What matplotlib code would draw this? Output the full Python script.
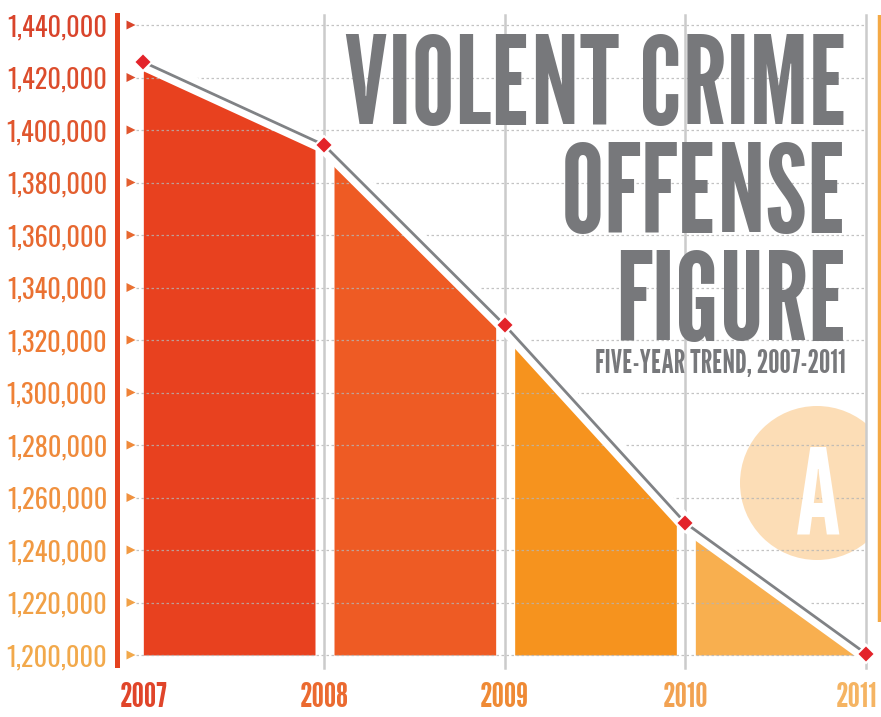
import matplotlib
matplotlib.use("Agg")
import matplotlib.pyplot as plt
import matplotlib.patheffects as pe
from matplotlib.patches import Circle, Rectangle
from matplotlib.colors import LinearSegmentedColormap
from matplotlib.font_manager import FontProperties
import matplotlib.transforms as mtrans
import numpy as np

# ---------------- data ----------------
years = [2007, 2008, 2009, 2010, 2011]
offenses = [1425900, 1394300, 1325700, 1250300, 1200500]
tick_values = [1200000, 1220000, 1240000, 1260000, 1280000, 1300000, 1320000,
               1340000, 1360000, 1380000, 1400000, 1420000, 1440000]
tick_labels = ["1,200,000", "1,220,000", "1,240,000", "1,260,000", "1,280,000",
               "1,300,000", "1,320,000", "1,340,000", "1,360,000", "1,380,000",
               "1,400,000", "1,420,000", "1,440,000"]
year_labels = ["2007", "2008", "2009", "2010", "2011"]
title_lines = ["VIOLENT CRIME", "OFFENSE", "FIGURE"]
subtitle = "FIVE-YEAR TREND, 2007-2011"
badge = "A"

# ---------------- styles ----------------
seg_colors = ["#E8411F", "#EE5B24", "#F6931E", "#F8AF4F"]
year_colors = ["#E0452A", "#EB6A30", "#EF8A35", "#F2A252", "#F5B463"]
grad = LinearSegmentedColormap.from_list("g", ["#F2A94B", "#EE7A33", "#D9442B"])
FONT = ["League Gothic", "DejaVu Sans"]
TICKFONT = ["Oswald", "League Gothic", "DejaVu Sans"]
GRAY_TXT = "#77787B"

W, H = 881, 717
fig = plt.figure(figsize=(W / 100, H / 100), dpi=100)

ax_l, ax_t, ax_b, ax_r = 117, 15, 665, 881
ax = fig.add_axes([ax_l / W, (H - ax_b) / H, (ax_r - ax_l) / W, (ax_b - ax_t) / H])

# pixel->data helpers (layout only)
px_per_year = (866 - 324) / 3.0
def px2x(px):
    return 2008 + (px - 324) / px_per_year
px_per_val = 52.5 / 20000
def py2y(py):
    return 1200000 + (655 - py) / px_per_val

ax.set_xlim(px2x(ax_l), px2x(ax_r))
ax.set_ylim(py2y(ax_b), py2y(ax_t))

for s in ["top", "right", "bottom"]:
    ax.spines[s].set_visible(False)
ax.spines["left"].set_color("#E4421F")
ax.spines["left"].set_linewidth(3.6)
ax.spines["left"].set_zorder(6)

# right orange bar
ax.plot([0.9985, 0.9985], [1.0, (ax_b - 622) / (ax_b - ax_t)], transform=ax.transAxes,
        color="#F4A945", lw=3.2, clip_on=False, solid_capstyle="butt", zorder=6)

# badge circle, clipped at the 2011 line
circ = Circle((817, H - 483), 77, facecolor="#FCDDB6", edgecolor="none", zorder=0.5)
circ.set_transform(mtrans.IdentityTransform())
ax.add_patch(circ)
clip_rect = Rectangle((px2x(ax_l), py2y(ax_b)), 2011 - px2x(ax_l), py2y(ax_t) - py2y(ax_b),
                      transform=ax.transData, facecolor="none", edgecolor="none")
ax.add_patch(clip_rect)
circ.set_clip_path(clip_rect)
ax.text(px2x(818), py2y(533), badge, color="white", fontsize=86, family=FONT,
        ha="center", va="baseline", zorder=7)

# area segments
x_arr = np.array(years, dtype=float)
v_arr = np.array(offenses, dtype=float)
gap_r = 9 / px_per_year
gap_l = 10 / px_per_year
for i in range(len(years) - 1):
    x0 = years[i] + (0 if i == 0 else gap_l)
    x1 = years[i + 1] - (gap_r if i < len(years) - 2 else 0)
    xs = np.linspace(x0, x1, 30)
    ys = np.interp(xs, x_arr, v_arr)
    ax.fill_between(xs, ys, tick_values[0], color=seg_colors[i], lw=0, zorder=1)

# dotted grid lines
ax.hlines(tick_values, px2x(136), 2011, colors="#B5B5B5", linestyles=(0, (2, 2)),
          lw=0.9, alpha=0.8, zorder=2)

# vertical year lines
for yr in years[1:]:
    ax.plot([yr, yr], [py2y(668), py2y(ax_t)], color="#CBCBCB", lw=1.8,
            clip_on=False, zorder=2)

# tick triangles
tcol = [grad(i / (len(tick_values) - 1)) for i in range(len(tick_values))]
ax.scatter([px2x(131)] * len(tick_values), tick_values, marker=">", s=42,
           c=tcol, edgecolors="none", zorder=6, clip_on=False)

# trend line with white halo + diamonds
ax.plot(years, offenses, color="#808285", lw=2.0, zorder=4, solid_capstyle="round",
        path_effects=[pe.Stroke(linewidth=12, foreground="white"), pe.Normal()])
ax.plot(years, offenses, ls="none", marker="D", ms=9.5, mfc="#E3232A", mec="white",
        mew=1.5, zorder=5, clip_on=False)

# y ticks
ax.set_yticks(tick_values)
ax.set_yticklabels(tick_labels)
ax.tick_params(axis="y", length=0, pad=7)
for lab, c in zip(ax.get_yticklabels(), tcol):
    lab.set_color(c)
    lab.set_family(TICKFONT)
    lab.set_fontsize(19)

# x ticks
ax.set_xticks(years)
ax.set_xticklabels(year_labels)
ax.tick_params(axis="x", length=0, pad=12)
for k, (lab, c) in enumerate(zip(ax.get_xticklabels(), year_colors)):
    lab.set_color(c)
    lab.set_family(FONT)
    lab.set_fontsize(25)
    if k == len(year_labels) - 1:
        lab.set_transform(lab.get_transform() + mtrans.ScaledTranslation(-9 / 100, 0, fig.dpi_scale_trans))

# title block (one multi-line text), line pitch ~107.5 px
title_fs = 88
renderer = fig.canvas.get_renderer()
_, lp_h, lp_d = renderer.get_text_width_height_descent("lp", FontProperties(family=FONT, size=title_fs), ismath=False)
ls = (107.5 - lp_d) / (lp_h - lp_d)
fig.text(848 / W, (H - 339.5) / H, "\n".join(title_lines), color=GRAY_TXT, fontsize=title_fs,
         family=FONT, ha="right", va="baseline", multialignment="right", linespacing=ls, zorder=8)
fig.text(846 / W, (H - 373) / H, subtitle, color=GRAY_TXT, fontsize=23, family=FONT,
         ha="right", va="baseline", zorder=8)

fig.savefig("out.png", dpi=100)
